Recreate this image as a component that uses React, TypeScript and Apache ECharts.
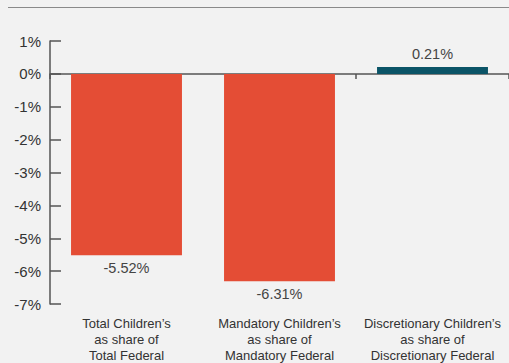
import React, { useEffect, useRef } from "react";
import * as echarts from "echarts";

const categories = [
  "Total Children’s\nas share of\nTotal Federal",
  "Mandatory Children’s\nas share of\nMandatory Federal",
  "Discretionary Children’s\nas share of\nDiscretionary Federal",
];
const values = [-5.52, -6.31, 0.21];
const yTicks = { min: -7, max: 1, interval: 1 };

export default function App() {
  const ref = useRef<HTMLDivElement>(null);
  useEffect(() => {
    if (!ref.current) return;
    const chart = echarts.init(ref.current, null, { renderer: "svg" });
    chart.setOption({
      animation: false,
      backgroundColor: "#f2f2f2",
      grid: { left: 50, right: 0, top: 41, bottom: 58 },
      graphic: [
        {
          type: "line",
          shape: { x1: 8, y1: 7.5, x2: 509, y2: 7.5 },
          style: { stroke: "#8a8a8a", lineWidth: 1 },
        },
      ],
      xAxis: [
        {
          type: "category",
          data: categories,
          axisLine: { onZero: true, lineStyle: { color: "#555", width: 1.5 } },
          axisTick: { show: true, length: 5, lineStyle: { color: "#555", width: 1.5 } },
          axisLabel: { show: false },
        },
        {
          type: "category",
          data: categories,
          position: "bottom",
          axisLine: { show: false, onZero: false },
          axisTick: { show: false },
          axisLabel: {
            interval: 0,
            hideOverlap: false,
            margin: 11,
            color: "#333",
            fontSize: 13,
            lineHeight: 16,
            fontFamily: "'Liberation Sans Narrow', 'Liberation Sans', sans-serif",
          },
        },
      ],
      yAxis: {
        type: "value",
        min: yTicks.min,
        max: yTicks.max,
        interval: yTicks.interval,
        axisLine: { show: true, lineStyle: { color: "#555", width: 1.5 } },
        axisTick: { show: true, inside: true, length: 11, lineStyle: { color: "#555", width: 1.5 } },
        splitLine: { show: false },
        axisLabel: {
          formatter: (v: number) => `${v}%`,
          color: "#333",
          fontSize: 15,
          margin: 9,
          fontFamily: "'Liberation Sans', Arial, sans-serif",
        },
      },
      series: [
        {
          type: "bar",
          xAxisIndex: 0,
          barWidth: "72.5%",
          data: values.map((v) => ({
            value: v,
            itemStyle: { color: v < 0 ? "#e44d35" : "#0b5467" },
            label: {
              show: true,
              position: v < 0 ? "bottom" : "top",
              distance: 5,
              formatter: `${v.toFixed(2)}%`,
              color: "#444",
              fontSize: 14.5,
              fontFamily: "'Liberation Sans', Arial, sans-serif",
            },
          })),
        },
      ],
    });
    return () => chart.dispose();
  }, []);
  return (
    <div
      ref={ref}
      style={{ position: "fixed", left: 0, top: 0, width: 509, height: 363 }}
    />
  );
}
